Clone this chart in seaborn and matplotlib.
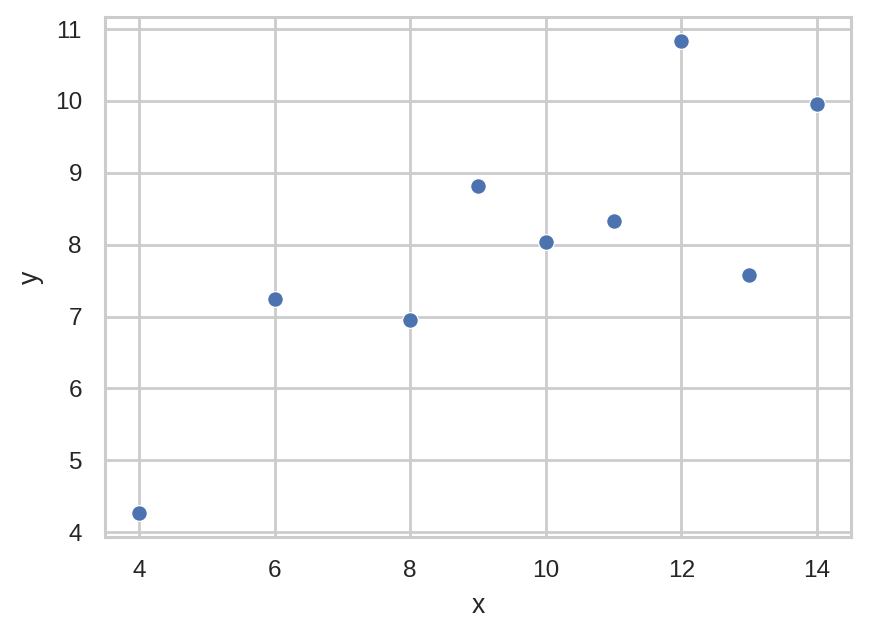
import matplotlib
matplotlib.use("Agg")
import matplotlib.pyplot as plt
import seaborn as sns
import pandas as pd

x = [4, 6, 8, 9, 10, 11, 12, 13, 14]
y = [4.26, 7.24, 6.95, 8.81, 8.04, 8.33, 10.84, 7.58, 9.96]

sns.set_theme(context="paper", style="whitegrid",
              rc={"grid.linewidth": 1.0, "axes.linewidth": 1.1})
plt.rcParams["font.family"] = ["Liberation Sans", "DejaVu Sans"]
df = pd.DataFrame({"x": x, "y": y})

dpi = 200
fig, ax = plt.subplots(figsize=(869 / dpi, 638 / dpi), dpi=dpi)
sns.scatterplot(data=df, x="x", y="y", ax=ax, s=32)
fig.subplots_adjust(left=105 / 869, right=851 / 869, top=1 - 17 / 638, bottom=1 - 537 / 638)
fig.savefig("out.png", dpi=dpi)
